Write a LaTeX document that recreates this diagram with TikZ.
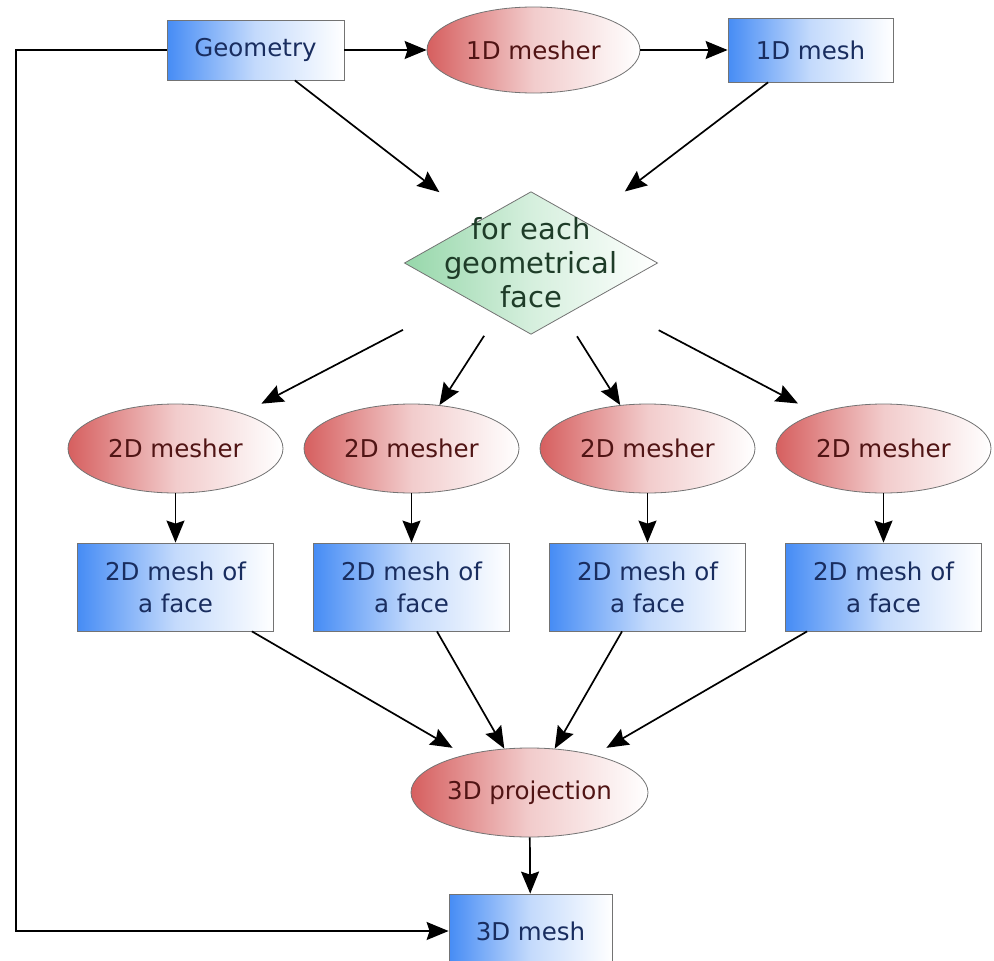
\documentclass[tikz,border=0pt]{standalone}
\usepackage{fontspec}
\setmainfont{DejaVu Sans}
\usepackage{tikz}
\usetikzlibrary{shapes.geometric, arrows.meta, positioning}

\definecolor{meshblue}{RGB}{70,140,245}
\definecolor{meshtext}{RGB}{25,45,95}
\definecolor{mesherred}{RGB}{214,95,95}
\definecolor{meshertext}{RGB}{80,20,20}
\definecolor{loopgreen}{RGB}{150,215,170}
\definecolor{looptext}{RGB}{30,60,40}

\begin{document}
\begin{tikzpicture}[x=1pt, y=-1pt, node distance=236pt]
\tikzstyle{meshbox} = [rectangle, minimum height=64pt, inner sep=0pt, align=center, draw=black!55, line width=0.8pt, left color=meshblue, right color=white, middle color=meshblue!32, text=meshtext, font=\fontsize{24.5}{32}\selectfont]
\tikzstyle{mesher} = [ellipse, minimum width=215pt, minimum height=89pt, inner sep=0pt, draw=black!55, line width=0.8pt, left color=mesherred, right color=white, middle color=mesherred!32, text=meshertext, font=\fontsize{24.5}{32}\selectfont]
\tikzstyle{decision} = [diamond, aspect=1.775, inner sep=-14.5pt, align=center, draw=black!55, line width=0.8pt, left color=loopgreen, right color=white, middle color=loopgreen!40, text=looptext, font=\fontsize{29}{34}\selectfont]
\tikzstyle{arrow} = [line width=1.7pt, -{Stealth[length=22pt, width=18pt, inset=3pt]}]

\useasboundingbox (0,0) rectangle (994,961);

% Top row
\node (geometry) [meshbox, minimum width=177pt, minimum height=60pt] at (255.5,50) {Geometry};
\node (mesher1D) [mesher, minimum width=213pt, minimum height=86pt, right of=geometry, xshift=42pt] {1D mesher};
\node (mesh1D) [meshbox, minimum width=165pt, right of=mesher1D, xshift=41pt] {1D mesh};
\node (face) [decision, below of=mesher1D, xshift=-2.5pt, yshift=23pt] {for each\\geometrical\\face};

% 2D meshing per face
\node (mesherB) [mesher, below of=face, xshift=-119.5pt, yshift=50.5pt] {2D mesher};
\node (mesherA) [mesher, left of=mesherB] {2D mesher};
\node (mesherC) [mesher, right of=mesherB] {2D mesher};
\node (mesherD) [mesher, right of=mesherC] {2D mesher};
\node (meshA) [meshbox, minimum width=196pt, minimum height=88pt, below of=mesherA, yshift=97.5pt] {2D mesh of\\a face};
\node (meshB) [meshbox, minimum width=196pt, minimum height=88pt, below of=mesherB, yshift=97.5pt] {2D mesh of\\a face};
\node (meshC) [meshbox, minimum width=196pt, minimum height=88pt, below of=mesherC, yshift=97.5pt] {2D mesh of\\a face};
\node (meshD) [meshbox, minimum width=196pt, minimum height=88pt, below of=mesherD, yshift=97.5pt] {2D mesh of\\a face};

% Result
\node (proj) [mesher, minimum width=237pt, inner xsep=-2pt, below of=face, xshift=-1.5pt, yshift=-293.5pt] {3D projection};
\node (mesh3D) [meshbox, minimum width=163pt, minimum height=74pt, below of=proj, xshift=1pt, yshift=97.5pt] {3D mesh};

% Connections
\draw [arrow] (geometry) -- (mesher1D);
\draw [arrow] (mesher1D) -- (mesh1D);
\draw [arrow, shorten >=48pt] (geometry) -- (face);
\draw [arrow, shorten >=50pt] (mesh1D) -- (face);
\draw [arrow, shorten <=70pt, shorten >=21pt] (face) -- (mesherA);
\draw [arrow, shorten <=24pt] (face) -- (mesherB);
\draw [arrow, shorten <=24pt] (face) -- (mesherC);
\draw [arrow, shorten <=70pt, shorten >=21pt] (face) -- (mesherD);
\draw [arrow] (mesherA) -- (meshA);
\draw [arrow] (mesherB) -- (meshB);
\draw [arrow] (mesherC) -- (meshC);
\draw [arrow] (mesherD) -- (meshD);
\draw [arrow, shorten >=14pt] (meshA) -- (proj);
\draw [arrow] (meshB) -- (proj);
\draw [arrow] (meshC) -- (proj);
\draw [arrow, shorten >=14pt] (meshD) -- (proj);
\draw [arrow] (proj) -- (mesh3D);
\draw [arrow, line width=1.8pt] (geometry.west) -- ++(-151,0) |- (mesh3D.west);

\end{tikzpicture}
\end{document}
